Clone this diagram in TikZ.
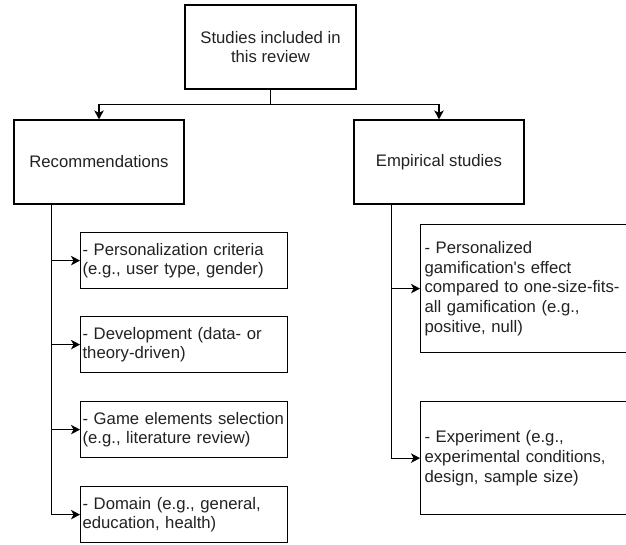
\documentclass[tikz,border=0pt]{standalone}
\usepackage{fontspec}
\setmainfont{Liberation Sans}[Ligatures=TeXOff]
\usetikzlibrary{arrows.meta,calc}
\definecolor{txt}{HTML}{222222}
\begin{document}
\begin{tikzpicture}[x=1pt,y=-1pt,
  box/.style={draw, line width=1.2pt, inner sep=0pt, text=txt, font=\fontsize{16.7}{19.8}\selectfont},
  cbox/.style={box, align=center},
  lbox/.style={box, align=left, anchor=north west, inner xsep=2pt, text width=203pt, minimum height=56pt},
  rbox/.style={box, align=left, anchor=north west, inner xsep=4pt, text width=212pt},
  conn/.style={line width=1.2pt, -{Stealth[length=9pt,width=9.5pt,inset=2.5pt]}}]
\useasboundingbox (0,0) rectangle (626,544);
\clip (0,0) rectangle (626,544);
\fill[white] (0,0) rectangle (626,544);
\node[cbox, minimum width=171pt, minimum height=84pt] (top) at (270.5,47) {Studies included in\\this review};
\node[cbox, minimum width=170pt, minimum height=84pt] (rec) at (99,162) {Recommendations};
\node[cbox, minimum width=170pt, minimum height=84pt] (emp) at (439,162) {Empirical studies};
\node[lbox] (s1) at (80,232) {- Personalization criteria\\(e.g., user type, gender)};
\node[lbox] (s2) at (80,316) {- Development (data- or\\theory-driven)};
\node[lbox] (s3) at (80,401) {- Game elements selection\\(e.g., literature review)};
\node[lbox] (s4) at (80,486) {- Domain (e.g., general,\\education, health)};
\node[rbox, minimum height=128pt] (e1) at (420,224) {- Personalized\\gamification's effect\\compared to one-size-fits-\\all gamification (e.g.,\\positive, null)};
\node[rbox, minimum height=113pt] (e2) at (420,401) {- Experiment (e.g.,\\experimental conditions,\\design, sample size)};
\coordinate (lt) at ($(rec.south west)+(38,0)$);
\coordinate (rt) at ($(emp.south west)+(38,0)$);
\draw[conn] (top.south) -- ++(0,15) -| (rec.north);
\draw[conn] (top.south) -- ++(0,15) -| (emp.north);
\draw[conn] (lt) |- (s1.west);
\draw[conn] (lt) |- (s2.west);
\draw[conn] (lt) |- (s3.west);
\draw[conn] (lt) |- (s4.west);
\draw[conn] (rt) |- (e1.west);
\draw[conn] (rt) |- (e2.west);
\end{tikzpicture}
\end{document}
